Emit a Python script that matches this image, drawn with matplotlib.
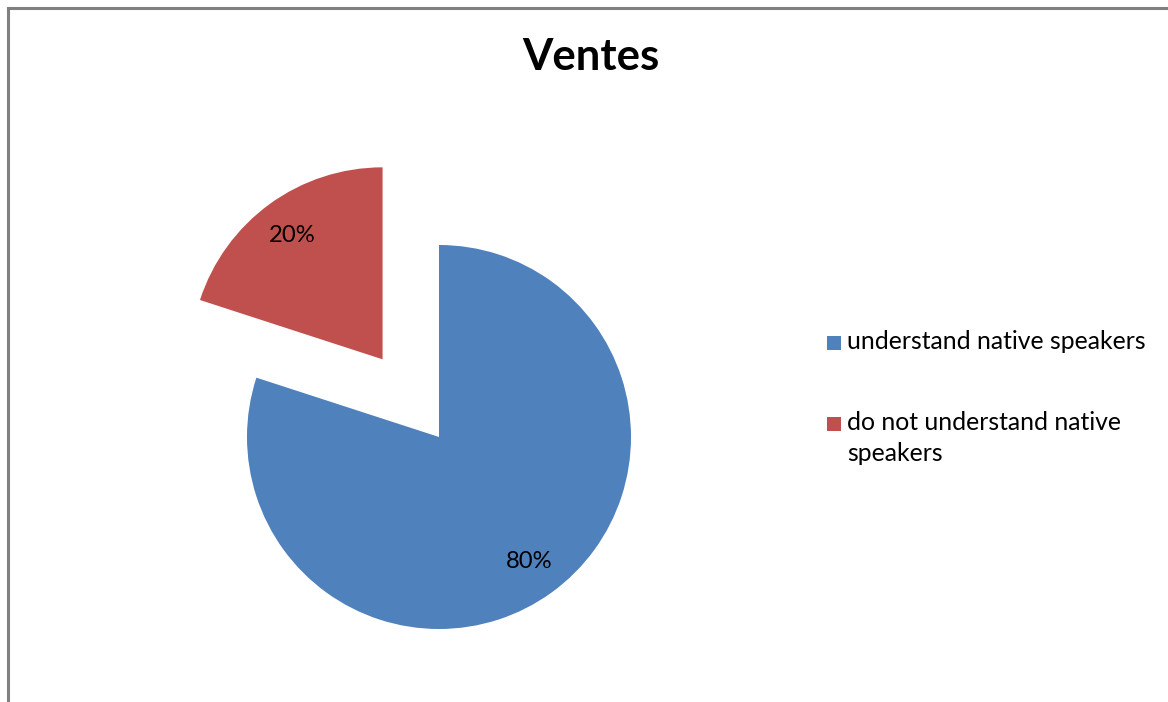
"""
Pie chart of how many learners understand native speakers.
"""
import matplotlib.pyplot as plt
from matplotlib.lines import Line2D
from matplotlib.patches import Rectangle

# Chart data
categories = ["understand native speakers", "do not understand native speakers"]
legend_labels = ["understand native speakers", "do not understand native\nspeakers"]
shares = [80, 20]
slice_colors = ["#4F81BD", "#C0504D"]
title_text = "Ventes"

FONT = "Lato"
W, H = 1168, 702


def fx(px):
    return px / W


def fy(py):
    return 1 - py / H


def draw_chart(output_file: str = "out.png") -> None:
    """Draw the pie chart with its title, legend and frame."""
    fig = plt.figure(figsize=(W / 100, H / 100), dpi=100)
    fig.patch.set_facecolor("white")

    # Axes span the whole figure; one data unit equals the pie radius
    radius_px = 192
    cx, cy = 439, 437
    ax = fig.add_axes([0, 0, 1, 1])
    ax.axis("off")

    wedges, _, autotexts = ax.pie(
        shares,
        colors=slice_colors,
        startangle=90,
        counterclock=False,
        explode=[0, 0.5],
        autopct=lambda p: f"{p:.0f}%",
        pctdistance=0.8,
        wedgeprops=dict(linewidth=0),
        textprops=dict(fontsize=17.2, family=FONT, color="black"),
        normalize=True,
    )
    ax.set_xlim(-cx / radius_px, (W - cx) / radius_px)
    ax.set_ylim((cy - H) / radius_px, cy / radius_px)
    ax.set_aspect("auto")

    # Title
    fig.text(fx(591), fy(57), title_text, ha="center", va="center",
             fontsize=31.5, fontweight="bold", family=FONT)

    # Legend: colour square plus label, one entry every 81 px, lines 31 px apart
    for i, (label, color) in enumerate(zip(legend_labels, slice_colors)):
        base = 349 + 81 * i
        fig.add_artist(Rectangle((fx(827), fy(base + 0.5)), 14 / W, 13.5 / H,
                                 facecolor=color, edgecolor="none",
                                 transform=fig.transFigure))
        for j, line in enumerate(label.split("\n")):
            fig.text(fx(847), fy(base + 31 * j), line, ha="left", va="baseline",
                     fontsize=17.8, family=FONT)

    # Frame along the left and top edges
    frame_color = "#808080"
    fig.add_artist(Line2D([fx(8), fx(8)], [0, fy(8)], color=frame_color,
                          linewidth=2.2, transform=fig.transFigure))
    fig.add_artist(Line2D([fx(8), 1], [fy(8), fy(8)], color=frame_color,
                          linewidth=2.2, transform=fig.transFigure))

    fig.savefig(output_file, dpi=100)


def main():
    draw_chart()


if __name__ == "__main__":
    main()
